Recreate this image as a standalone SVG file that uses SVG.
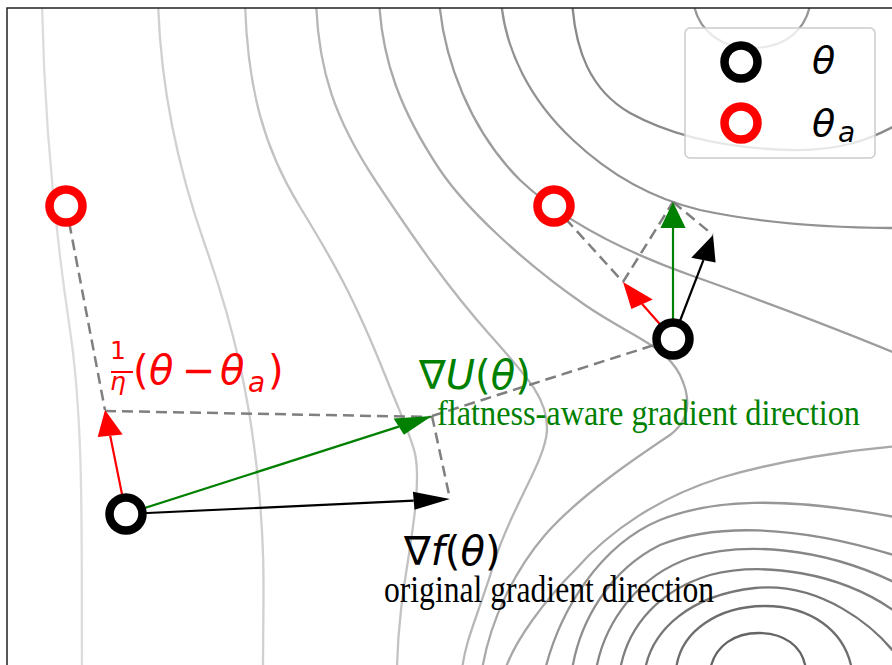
<svg xmlns="http://www.w3.org/2000/svg" width="892" height="665" viewBox="0 0 892 665">
<style>
.ct{fill:none;stroke-width:2.3}
.dash{fill:none;stroke:#7f7f7f;stroke-width:2.5;stroke-dasharray:11 6}
.math{font-family:"DejaVu Sans",sans-serif}
.it{font-style:italic}
.serif{font-family:"Liberation Serif","Times New Roman",serif}
.pt{fill:#fff;stroke-width:8.5}
.shaft{fill:none;stroke-width:2.2}
</style>
<defs>
<clipPath id="ax"><rect x="7" y="8" width="885" height="657"/></clipPath>
</defs>
<rect x="0" y="0" width="892" height="665" fill="#fff"/>
<g id="contours" clip-path="url(#ax)">
<path class="ct" stroke="#dcdcdc" d="M42,0 C44,120 55,230 70,330 S81,560 82,670"/>
<path class="ct" stroke="#d0d0d0" d="M158,0 C160,80 175,160 205,245 S250,400 258,480 S263,600 263,670"/>
<path class="ct" stroke="#c3c3c3" d="M245,0 C247,90 265,150 300,207 S355,300 385,375 S420,450 416,500 S398,600 397,670"/>
<path class="ct" stroke="#b6b6b6" d="M316,0 C318,70 335,120 377,183 S450,290 490,335 S548,400 547,430 S510,510 495,560 S465,640 462,670"/>
<path class="ct" stroke="#a9a9a9" d="M379,0 C382,60 400,110 440,170 C465,207 520,260 585,305 C630,336 665,345 680,375 C692,400 690,420 670,435 C640,455 580,495 545,535 C515,570 490,620 482,670"/>
<path class="ct" stroke="#9d9d9d" d="M439,0 C444,60 470,130 520,180 C560,218 620,250 690,275 C760,300 840,330 900,355"/>
<path class="ct" stroke="#929292" d="M501,0 C505,50 530,100 573,140 C610,175 650,198 700,210 C770,225 840,228 900,228"/>
<path class="ct" stroke="#898989" d="M572,0 C575,50 590,90 630,113 C670,135 720,148 790,150 C840,151 870,140 900,123"/>
<path class="ct" stroke="#979797" d="M693,0 C697,30 720,48 752,48 C785,48 807,30 811,0"/>
<path class="ct" stroke="#a8a8a8" d="M900,446 C850,450 780,460 720,478 C660,497 610,530 575,570 C545,600 515,640 505,670"/>
<path class="ct" stroke="#979797" d="M545,670 C560,610 600,545 660,520 C710,500 780,495 900,518"/>
<path class="ct" stroke="#8e8e8e" d="M572,670 C580,620 610,570 660,545 C710,525 790,522 900,557"/>
<path class="ct" stroke="#868686" d="M596,670 C605,620 640,575 690,558 C740,542 820,545 900,585"/>
<path class="ct" stroke="#7e7e7e" d="M620,670 C628,625 660,590 710,575 C760,562 840,570 900,615"/>
<path class="ct" stroke="#767676" d="M645,670 C652,630 690,595 755,588 C820,582 875,625 900,660"/>
<path class="ct" stroke="#6d6d6d" d="M676,670 C680,630 720,606 765,606 C810,606 845,630 852,670"/>
<path class="ct" stroke="#646464" d="M710,670 C715,645 735,633 759,633 C783,633 803,645 806,670"/>
</g>
<path id="frame" d="M7,665 V8 H892" fill="none" stroke="#222" stroke-width="1.5"/>
<g id="connectors">
<line class="dash" x1="66" y1="206" x2="105" y2="410"/>
<line class="dash" x1="105" y1="411" x2="432" y2="417"/>
<line class="dash" x1="432" y1="416" x2="450" y2="499"/>
<line class="dash" x1="432" y1="416" x2="673" y2="339"/>
<line class="dash" x1="554" y1="206" x2="623" y2="282"/>
<line class="dash" x1="623" y1="282" x2="673" y2="202"/>
<line class="dash" x1="673" y1="202" x2="713" y2="235"/>
<line class="shaft" stroke="#000" x1="126" y1="514" x2="413.7" y2="500.7"/>
<polygon fill="#000" points="450,499 414.5,509.7 412.9,491.7"/>
<line class="shaft" stroke="#008000" x1="126" y1="514" x2="398.8" y2="426.6"/>
<polygon fill="#008000" points="432,416 403.9,434.8 393.6,418.4"/>
<line class="shaft" stroke="#ff0000" x1="126" y1="514" x2="110.2" y2="435.7"/>
<polygon fill="#ff0000" points="105,410 122.7,434.4 97.7,437"/>
<line class="shaft" stroke="#008000" x1="673" y1="339" x2="673" y2="228"/>
<polygon fill="#008000" points="673,202 685.6,228 660.4,228"/>
<line class="shaft" stroke="#000" x1="673" y1="339" x2="703.4" y2="260.1"/>
<polygon fill="#000" points="713,235 715.6,262.5 691.3,257.7"/>
<line class="shaft" stroke="#ff0000" x1="673" y1="339" x2="642.1" y2="304.1"/>
<polygon fill="#ff0000" points="623,282 652.8,299.4 631.4,308.9"/>
</g>
<g id="theta-a-left"><circle class="pt" stroke="#ff0000" cx="66" cy="206" r="16.5"/></g>
<g id="theta-a-right"><circle class="pt" stroke="#ff0000" cx="554" cy="206" r="16.5"/></g>
<g id="theta-left"><circle class="pt" stroke="#000" cx="126" cy="514" r="16.5"/></g>
<g id="theta-right"><circle class="pt" stroke="#000" cx="673" cy="339" r="16.5"/></g>
<g id="label-red" class="math" fill="#ff0000">
<text x="110" y="359" font-size="25">1</text>
<line x1="111" y1="372" x2="133" y2="372" stroke="#ff0000" stroke-width="2"/>
<text class="it" x="110" y="390" font-size="25">η</text>
<text font-size="40"><tspan x="133" y="384">(</tspan><tspan class="it" x="149" y="384">θ</tspan><tspan x="182" y="384">−</tspan><tspan class="it" x="220" y="384">θ</tspan><tspan class="it" x="248" y="392" font-size="28">a</tspan><tspan x="268" y="384">)</tspan></text>
</g>
<g id="label-green" fill="#008000">
<text class="math" x="419" y="389" font-size="40">∇<tspan class="it">U</tspan>(<tspan class="it">θ</tspan>)</text>
<text class="serif" x="437" y="425" font-size="36" textLength="423" lengthAdjust="spacingAndGlyphs">flatness-aware gradient direction</text>
</g>
<g id="label-black" fill="#000">
<text class="math" x="404" y="565" font-size="40">∇<tspan class="it">f</tspan>(<tspan class="it">θ</tspan>)</text>
<text class="serif" x="384" y="602" font-size="37" textLength="330" lengthAdjust="spacingAndGlyphs">original gradient direction</text>
</g>
<g id="legend">
<rect x="685" y="28" width="190" height="130" rx="5" fill="#fff" fill-opacity="0.8" stroke="#cccccc" stroke-width="1.5"/>
<circle class="pt" stroke="#000" cx="741" cy="62" r="16.5"/>
<circle class="pt" stroke="#ff0000" cx="741" cy="123" r="16.5"/>
<text class="math it" x="812" y="73" font-size="38">θ</text>
<text class="math" x="812" y="136" font-size="38"><tspan class="it">θ</tspan><tspan class="it" x="838" y="142" font-size="28">a</tspan></text>
</g>
</svg>
